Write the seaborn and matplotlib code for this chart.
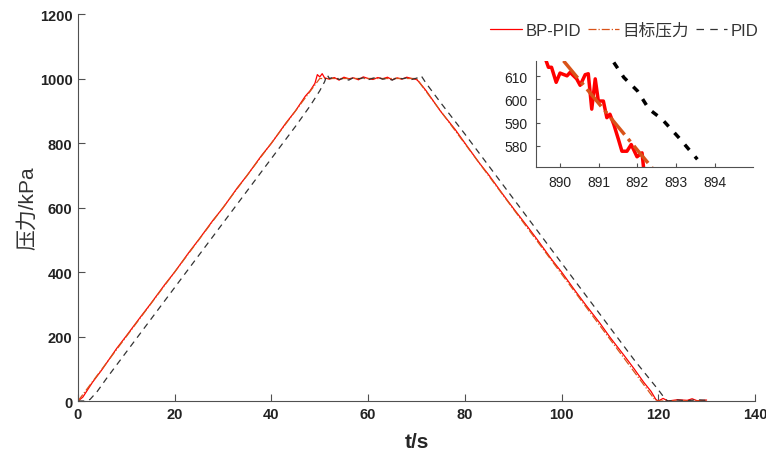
import numpy as np
import pandas as pd
import matplotlib
matplotlib.use('Agg')
import matplotlib.pyplot as plt
import seaborn as sns

# ---- datos ----
# BP-PID (rojo, continua)
t_bp = [0, 1, 3, 5, 8, 10, 13, 15, 18, 20, 23, 25, 28, 30, 33, 35, 38, 40, 43, 45,
        47, 48, 49, 49.5, 50, 50.5, 51,
        52, 53, 54, 55, 56, 57, 58, 59, 60, 61, 62, 63, 64, 65, 66, 67, 68, 69, 70,
        70.5, 72, 75, 78, 80, 83, 85, 88, 90, 93, 95, 98, 100, 103, 105, 108, 110,
        113, 115, 117, 118.5, 119.5, 120, 121, 122, 124, 126, 127, 128, 130]
p_bp = [0, 12, 58, 98, 163, 202, 262, 301, 362, 400, 462, 501, 562, 599, 662, 700, 762, 799, 862, 900,
        945, 962, 985, 1012, 1005, 1015, 1002,
        998, 1003, 995, 1004, 999, 1002, 996, 1005, 1000, 997, 1003, 999, 1004, 996, 1002, 998, 1004, 1000, 997,
        990, 962, 898, 842, 800, 738, 700, 638, 598, 540, 500, 438, 400, 338, 298, 240, 198,
        140, 100, 58, 30, 5, 0, 8, 0, 4, 2, 7, 1, 3]

# 目标压力 (consigna)
t_ref = [0, 50, 70, 119.5, 130]
p_ref = [0, 1000, 1000, 0, 0]

# PID (negro, discontinua)
t_pid = [0, 1.5, 2.5, 4, 6, 10, 15, 20, 25, 30, 35, 40, 45, 48, 50, 51, 51.5, 52,
         53, 54, 55, 56, 57, 58, 59, 60, 61, 62, 63, 64, 65, 66, 67, 68, 69, 70, 71,
         72, 75, 80, 85, 90, 95, 100, 105, 110, 115, 120, 121.5, 122, 124, 126, 128, 130]
p_pid = [0, 0, 5, 30, 72, 152, 252, 352, 452, 552, 652, 752, 852, 915, 962, 990, 1012, 1000,
         1004, 997, 1001, 995, 1003, 999, 1002, 996, 1001, 1004, 998, 1000, 995, 1003, 999, 1002, 997, 1001, 1008,
         985, 925, 828, 728, 628, 528, 428, 328, 228, 128, 35, 5, 0, 3, 1, 4, 2]

# zoom (recuadro)
ti_bp = [889.64, 889.70, 889.78, 889.90, 890.00, 890.18, 890.26, 890.43, 890.52, 890.65, 890.73,
         890.82, 890.91, 890.99, 891.12, 891.21, 891.29, 891.39, 891.51, 891.60, 891.73, 891.84,
         891.99, 892.12, 892.16]
pi_bp = [616.7, 613.9, 613.9, 607.4, 611.4, 610.2, 611.7, 608.9, 606.1, 610.7, 611.1,
         595.8, 608.9, 599.3, 599.3, 592.1, 593.6, 589.2, 582.7, 577.6, 577.6, 580.5,
         575.2, 576.9, 570.4]
ti_ref = [890.09, 892.38]
pi_ref = [616.7, 570.4]
ti_pid = [891.39, 891.65, 892.00, 892.30, 892.64, 893.07, 893.55]
pi_pid = [616.0, 609.5, 603.7, 595.8, 591.4, 583.5, 574.1]

c_bp = '#FF0000'
c_ref = '#D95319'
c_pid = '#333333'

sns.set_style('ticks')
plt.rcParams['font.family'] = ['Liberation Sans', 'Noto Sans CJK SC', 'DejaVu Sans']
plt.rcParams['xtick.direction'] = 'in'
plt.rcParams['ytick.direction'] = 'in'

fig = plt.figure(figsize=(7.66, 4.56), dpi=100)
ax = fig.add_axes([0.1018, 0.1184, 0.8838, 0.8487])

sns.lineplot(x=t_bp, y=p_bp, ax=ax, color=c_bp, lw=0.9, label='BP-PID', estimator=None, sort=False)
sns.lineplot(x=t_ref, y=p_ref, ax=ax, color=c_ref, lw=0.9, linestyle='-.', label='目标压力', estimator=None, sort=False)
sns.lineplot(x=t_pid, y=p_pid, ax=ax, color=c_pid, lw=0.9, label='PID', estimator=None, sort=False)
ax.lines[-1].set_dashes([5, 4])

ax.set_xlim(0, 140)
ax.set_ylim(0, 1200)
ax.set_xticks(range(0, 141, 20))
ax.set_yticks(range(0, 1201, 200))
sns.despine(ax=ax)
for s in ['left', 'bottom']:
    ax.spines[s].set_color('#505050')
    ax.spines[s].set_linewidth(0.8)
ax.tick_params(length=5, width=0.8, color='#505050', labelsize=10.5, pad=4)
for lab in ax.get_xticklabels() + ax.get_yticklabels():
    lab.set_fontweight('bold')
    lab.set_color('#222222')

ax.set_xlabel('t/s', fontsize=15, fontweight='bold', labelpad=8)
ax.set_ylabel('压力/kPa', fontsize=15, labelpad=2, color='#333333')

leg = ax.legend(loc='upper right', bbox_to_anchor=(1.015, 0.997), borderaxespad=0, ncol=3,
                frameon=False, fontsize=12, handlelength=1.9, handletextpad=0.2, columnspacing=0.4)
for t in leg.get_texts():
    t.set_color('#333333')
leg.get_lines()[2].set_dashes([6, 5])

# recuadro
axi = fig.add_axes([0.6993, 0.6322, 0.2833, 0.2325])
sns.lineplot(x=ti_bp, y=pi_bp, ax=axi, color=c_bp, lw=2.5, estimator=None, sort=False)
sns.lineplot(x=ti_ref, y=pi_ref, ax=axi, color=c_ref, lw=2.5, linestyle='-.', estimator=None, sort=False)
sns.lineplot(x=ti_pid, y=pi_pid, ax=axi, color='black', lw=2.5, estimator=None, sort=False)
axi.lines[-1].set_dashes([2, 2.5])
axi.set_xlim(889.37, 894.98)
axi.set_ylim(570.9, 616.75)
axi.set_xticks([890, 891, 892, 893, 894])
axi.set_yticks([580, 590, 600, 610])
axi.set_facecolor('white')
sns.despine(ax=axi)
for s in ['left', 'bottom']:
    axi.spines[s].set_color('#505050')
    axi.spines[s].set_linewidth(0.8)
axi.tick_params(length=3, width=0.8, color='#505050', labelsize=10, pad=6, labelcolor='#222222')

fig.savefig('out.png', dpi=100)
